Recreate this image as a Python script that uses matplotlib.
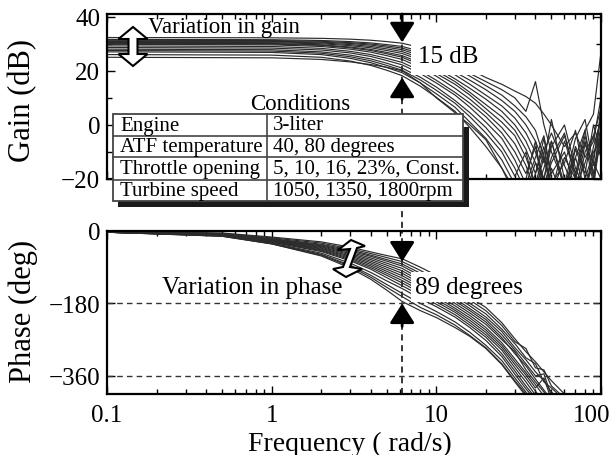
import numpy as np
import matplotlib.pyplot as plt
from matplotlib.patches import Polygon, Rectangle
from matplotlib.lines import Line2D
from matplotlib import transforms

plt.rcParams['font.family'] = ['Liberation Serif', 'DejaVu Serif']

#frequency grids (rad/s)
freq_gain = [0.1, 1, 2, 3, 4, 5, 6.2, 8, 10, 13, 16, 20, 25, 30, 35, 40, 45, 50, 60, 70, 80, 90, 100]
freq_phase = [0.1, 0.5, 1, 2, 3, 4, 5, 6.2, 8, 10, 13, 16, 20, 25, 30, 35, 40, 45, 50, 60, 70]

#gain curves (dB), one per operating condition
gain_curves = [
    [32.3, 32.2, 32.0, 31.7, 31.3, 30.8, 30.2, 28.6, 26.6, 23.5, 20.5, 17.5, 15.0, 12.5, 10.5, 8.0, 4.0, 0.0, -8.0, -3.0, -12.0, -6.0, 10.0],
    [31.6, 31.5, 31.2, 30.8, 30.3, 29.7, 29.0, 27.2, 25.0, 22.0, 19.0, 16.0, 13.0, 10.0, 5.0, 16.0, 0.0, -10.0, -22.0, -5.0, 2.0, -15.0, -8.0],
    [31.3, 31.2, 30.9, 30.4, 29.9, 29.2, 28.4, 26.4, 24.0, 21.0, 18.0, 14.5, 11.0, 7.0, 3.0, -2.0, -12.0, -25.0, -6.0, -18.0, -2.0, 4.0, 27.0],
    [31.0, 30.9, 30.6, 30.1, 29.5, 28.7, 27.8, 25.6, 23.0, 19.5, 16.5, 13.0, 9.0, 5.0, 0.0, -6.0, -14.0, 2.0, -20.0, -28.0, -10.0, -4.0, 6.0],
    [30.8, 30.7, 30.3, 29.7, 29.0, 28.1, 27.1, 24.8, 22.0, 18.5, 15.0, 11.0, 7.0, 2.5, -3.0, -10.0, -20.0, -8.0, 0.0, -16.0, -24.0, -12.0, 3.0],
    [30.5, 30.4, 30.0, 29.3, 28.5, 27.5, 26.4, 24.0, 21.0, 17.0, 13.5, 9.5, 5.0, 0.0, -6.0, -14.0, -24.0, -12.0, -3.0, -20.0, -6.0, -22.0, -4.0],
    [30.2, 30.1, 29.6, 28.8, 27.9, 26.8, 25.6, 23.0, 20.0, 16.0, 12.0, 7.5, 3.0, -2.0, -9.0, -18.0, -5.0, -20.0, -26.0, -9.0, -18.0, 0.0, -10.0],
    [30.0, 29.9, 29.4, 28.5, 27.5, 26.3, 25.0, 22.2, 19.0, 15.0, 11.0, 6.0, 1.0, -4.0, -12.0, -22.0, -10.0, -3.0, -15.0, -25.0, -7.0, -14.0, 5.0],
    [29.8, 29.6, 29.0, 28.0, 26.9, 25.6, 24.2, 21.2, 18.0, 13.5, 9.5, 4.5, -1.0, -7.0, -15.0, -25.0, -16.0, -6.0, -22.0, -12.0, -2.0, -20.0, -2.0],
    [29.2, 29.0, 28.3, 27.2, 26.0, 24.6, 23.1, 20.0, 16.5, 12.0, 8.0, 3.0, -3.0, -10.0, -18.0, -8.0, -22.0, -14.0, -4.0, -18.0, -26.0, -8.0, 2.0],
    [28.6, 28.4, 27.7, 26.6, 25.3, 23.8, 22.2, 19.0, 15.5, 11.0, 6.5, 1.0, -5.0, -13.0, -22.0, -12.0, -4.0, -18.0, -10.0, -24.0, -14.0, -4.0, -12.0],
    [28.0, 27.8, 27.0, 25.8, 24.4, 22.8, 21.0, 17.6, 14.0, 9.0, 4.5, -1.0, -8.0, -16.0, -25.0, -14.0, -20.0, -6.0, -24.0, -8.0, -16.0, -25.0, 8.0],
    [27.5, 27.3, 26.5, 25.2, 23.7, 22.0, 20.2, 16.6, 12.8, 8.0, 3.0, -3.0, -10.0, -19.0, -10.0, -24.0, -12.0, -22.0, -14.0, -2.0, -20.0, -10.0, -6.0],
    [27.0, 26.8, 26.0, 24.6, 23.0, 21.2, 19.3, 15.5, 11.5, 6.5, 1.0, -5.0, -13.0, -22.0, -28.0, -18.0, -8.0, -26.0, -12.0, -20.0, -4.0, -18.0, 0.0],
    [26.0, 25.8, 25.0, 23.6, 22.0, 20.2, 18.2, 14.3, 10.2, 5.0, -1.0, -8.0, -16.0, -26.0, -20.0, -6.0, -26.0, -16.0, -28.0, -12.0, -24.0, -14.0, -20.0],
    [25.0, 24.8, 24.2, 23.3, 22.3, 21.3, 20.0, 15.5, 10.0, 4.5, 0.0, -5.5, -16.0, -24.0, -30.0, -36.0, -40.0, -44.0, -50.0, -55.0, -60.0, -65.0, -70.0],
]

#phase curves (deg)
phase_curves = [
    [-1, -5, -15, -27, -40, -52, -61, -69, -90, -110, -140, -165, -190, -228, -268, -300, -325, -350, -372, -405, -440],
    [-1, -6, -17, -30, -44, -56, -66, -76, -98, -120, -148, -172, -198, -235, -275, -292, -340, -345, -385, -415, -450],
    [-2, -7, -19, -33, -47, -60, -71, -82, -105, -128, -156, -180, -206, -244, -280, -315, -330, -375, -390, -420, -450],
    [-2, -7, -20, -35, -50, -63, -75, -87, -111, -134, -162, -186, -214, -250, -290, -320, -350, -372, -400, -430, -460],
    [-2, -8, -21, -37, -53, -67, -80, -93, -118, -141, -168, -193, -220, -258, -296, -330, -360, -355, -410, -440, -470],
    [-2, -8, -22, -39, -56, -71, -85, -99, -124, -147, -174, -198, -226, -265, -305, -335, -368, -395, -420, -450, -480],
    [-2, -9, -23, -41, -59, -75, -90, -105, -130, -152, -180, -204, -232, -270, -300, -345, -375, -400, -430, -460, -490],
    [-2, -9, -24, -43, -62, -79, -95, -111, -136, -158, -186, -210, -240, -278, -318, -352, -382, -410, -440, -470, -500],
    [-3, -10, -25, -45, -65, -83, -100, -117, -142, -164, -192, -216, -246, -284, -325, -358, -390, -365, -420, -470, -500],
    [-3, -10, -26, -47, -68, -87, -105, -123, -148, -170, -197, -222, -252, -290, -332, -366, -398, -425, -450, -480, -510],
    [-3, -11, -27, -49, -71, -91, -110, -129, -154, -176, -202, -228, -258, -296, -340, -375, -408, -435, -460, -490, -520],
    [-3, -11, -28, -51, -74, -95, -116, -136, -160, -182, -208, -234, -264, -305, -348, -385, -415, -440, -470, -500, -530],
    [-3, -12, -30, -55, -80, -103, -124, -143, -168, -188, -214, -240, -272, -312, -356, -392, -420, -450, -480, -510, -540],
    [-3, -12, -31, -58, -85, -110, -133, -155, -180, -200, -226, -252, -284, -322, -365, -400, -430, -460, -490, -520, -550],
    [-3, -13, -32, -60, -88, -115, -140, -163, -190, -208, -234, -260, -290, -330, -372, -405, -440, -470, -500, -530, -560],
    [-3, -13, -32, -62, -92, -120, -147, -175, -198, -215, -240, -262, -292, -332, -375, -410, -445, -475, -505, -535, -565],
]

x_ticks = [0.1, 1, 10, 100]
x_tick_labels = ['0.1', '1', '10', '100']
gain_ticks = [-20, 0, 20, 40]
phase_ticks = [-360, -180, 0]

table_rows = [
    ('Engine', '3-liter'),
    ('ATF temperature', '40, 80 degrees'),
    ('Throttle opening', '5, 10, 16, 23%, Const.'),
    ('Turbine speed', '1050, 1350, 1800rpm'),
]

f_mark = 6.2   #frequency of the marked variation

W, H = 615, 456
def px(x, y):
    #pixel position (y down) to figure fraction
    return (x / W, 1 - y / H)

def rect(x0, y0, x1, y1, **kw):
    return Rectangle(px(x0, y1), (x1 - x0) / W, (y1 - y0) / H, transform=fig.transFigure, **kw)

fig = plt.figure(figsize=(6.15, 4.56), dpi=100)
ax_g = fig.add_axes([107 / W, 1 - 180 / H, 494 / W, 165 / H])
ax_p = fig.add_axes([107 / W, 1 - 395 / H, 494 / W, 163 / H])

line_col = '#2b2b2b'
for g in gain_curves:
    ax_g.plot(freq_gain, g, color=line_col, lw=0.85)
for p in phase_curves:
    ax_p.plot(freq_phase, p, color=line_col, lw=0.85)

dash = (0, (4, 3))
for ax in (ax_g, ax_p):
    ax.set_xscale('log')
    ax.set_xlim(0.1, 100)
    ax.set_xticks(x_ticks)
    ax.tick_params(which='both', direction='in', top=True, right=True, labelsize=18, width=1)
    ax.tick_params(which='major', length=6)
    ax.tick_params(which='minor', length=3.5)
    ax.axvline(f_mark, color='k', lw=1.1, ls=dash, zorder=1)
    for s in ax.spines.values():
        s.set_linewidth(1.6)

ax_g.set_ylim(-20, 41)
ax_g.set_yticks(gain_ticks)
ax_g.set_yticks([-10, 10, 30], minor=True)
ax_g.set_xticklabels([])
ax_g.tick_params(axis='y', pad=5)

ax_p.set_ylim(-405, 0)
ax_p.set_yticks(phase_ticks)
ax_p.set_xticklabels(x_tick_labels)
ax_p.tick_params(axis='x', pad=7)
ax_p.tick_params(axis='y', pad=5)
ax_p.axhline(-180, color='#333333', lw=1.0, ls=dash)
ax_p.axhline(-360, color='#333333', lw=1.0, ls=dash)

#keep the last tick label inside the figure
last = ax_p.get_xticklabels()[-1]
last.set_transform(last.get_transform() + transforms.ScaledTranslation(-7 / 72, 0, fig.dpi_scale_trans))

#dashed line between the two panels
blend = transforms.blended_transform_factory(ax_g.transData, fig.transFigure)
fig.add_artist(Line2D([f_mark, f_mark], [1 - 180 / H, 1 - 232 / H], transform=blend,
                      color='k', lw=1.1, ls=dash))

#axis labels
fig.text(23 / W, 1 - 100 / H, 'Gain (dB)', rotation=90, ha='center', va='center', fontsize=22)
fig.text(23 / W, 1 - 311 / H, 'Phase (deg)', rotation=90, ha='center', va='center', fontsize=22)
fig.text(350 / W, 1 - 444 / H, 'Frequency ( rad/s)', ha='center', va='center', fontsize=20)

#black arrows marking the variation
arrow = dict(arrowstyle='-|>,head_length=0.6,head_width=0.38', mutation_scale=20,
             color='k', lw=2, shrinkA=0, shrinkB=0)
ax_g.annotate('', xy=(f_mark, 30.5), xytext=(f_mark, 41), arrowprops=arrow, annotation_clip=False)
ax_g.annotate('', xy=(f_mark, 17.5), xytext=(f_mark, 9.5), arrowprops=arrow, annotation_clip=False)
ax_p.annotate('', xy=(f_mark, -76), xytext=(f_mark, -36), arrowprops=arrow, annotation_clip=False)
ax_p.annotate('', xy=(f_mark, -180), xytext=(f_mark, -237), arrowprops=arrow, annotation_clip=False)

#annotation texts
fig.text(148 / W, 1 - 28 / H, 'Variation in gain', ha='left', va='center', fontsize=16.5)
fig.text(418 / W, 1 - 57 / H, '15 dB', ha='left', va='center', fontsize=18,
         bbox=dict(boxstyle='square,pad=0.3', fc='white', ec='none'))
fig.text(162 / W, 1 - 288 / H, 'Variation in phase', ha='left', va='center', fontsize=18)
fig.text(415 / W, 1 - 288 / H, '89 degrees', ha='left', va='center', fontsize=18,
         bbox=dict(boxstyle='square,pad=0.15', fc='white', ec='none'))

#hollow double arrows
gain_arrow = [(133, 28), (147.5, 40), (137.5, 40), (137.5, 55), (147.5, 55), (133, 67),
              (118.5, 55), (128.5, 55), (128.5, 40), (118.5, 40)]
fig.add_artist(Polygon([px(*p) for p in gain_arrow], closed=True, transform=fig.transFigure,
                       fc='white', ec='k', lw=1.5, zorder=5))
phase_arrow = [(351, 241), (365, 247), (357, 249), (350, 268), (362, 270), (346, 278),
               (333, 270), (343, 268), (350, 250), (338, 251)]
fig.add_artist(Polygon([px(*p) for p in phase_arrow], closed=True, transform=fig.transFigure,
                       fc='white', ec='k', lw=1.5, zorder=5))

#conditions table
fig.text(300 / W, 1 - 104 / H, 'Conditions', ha='center', va='center', fontsize=16.5)
fig.add_artist(rect(463, 128, 469, 208, fc='#1a1a1a', ec='none', zorder=5))
fig.add_artist(rect(118, 202, 469, 208, fc='#1a1a1a', ec='none', zorder=5))
fig.add_artist(rect(113, 115, 463, 202, fc='white', ec='#444444', lw=1.3, zorder=6))
row_edges = [115, 137, 158, 181, 202]
for y in row_edges[1:-1]:
    fig.add_artist(Line2D([113 / W, 463 / W], [1 - y / H, 1 - y / H], color='#444444', lw=1.2, zorder=7))
fig.add_artist(Line2D([267 / W, 267 / W], [1 - 115 / H, 1 - 202 / H], color='#444444', lw=1.2, zorder=7))
for i, (name, val) in enumerate(table_rows):
    yc = (row_edges[i] + row_edges[i + 1]) / 2
    fig.text(120 / W, 1 - yc / H, name, ha='left', va='center', fontsize=15, zorder=8)
    fig.text(273 / W, 1 - yc / H, val, ha='left', va='center', fontsize=15, zorder=8)

fig.savefig('out.png', dpi=100)
